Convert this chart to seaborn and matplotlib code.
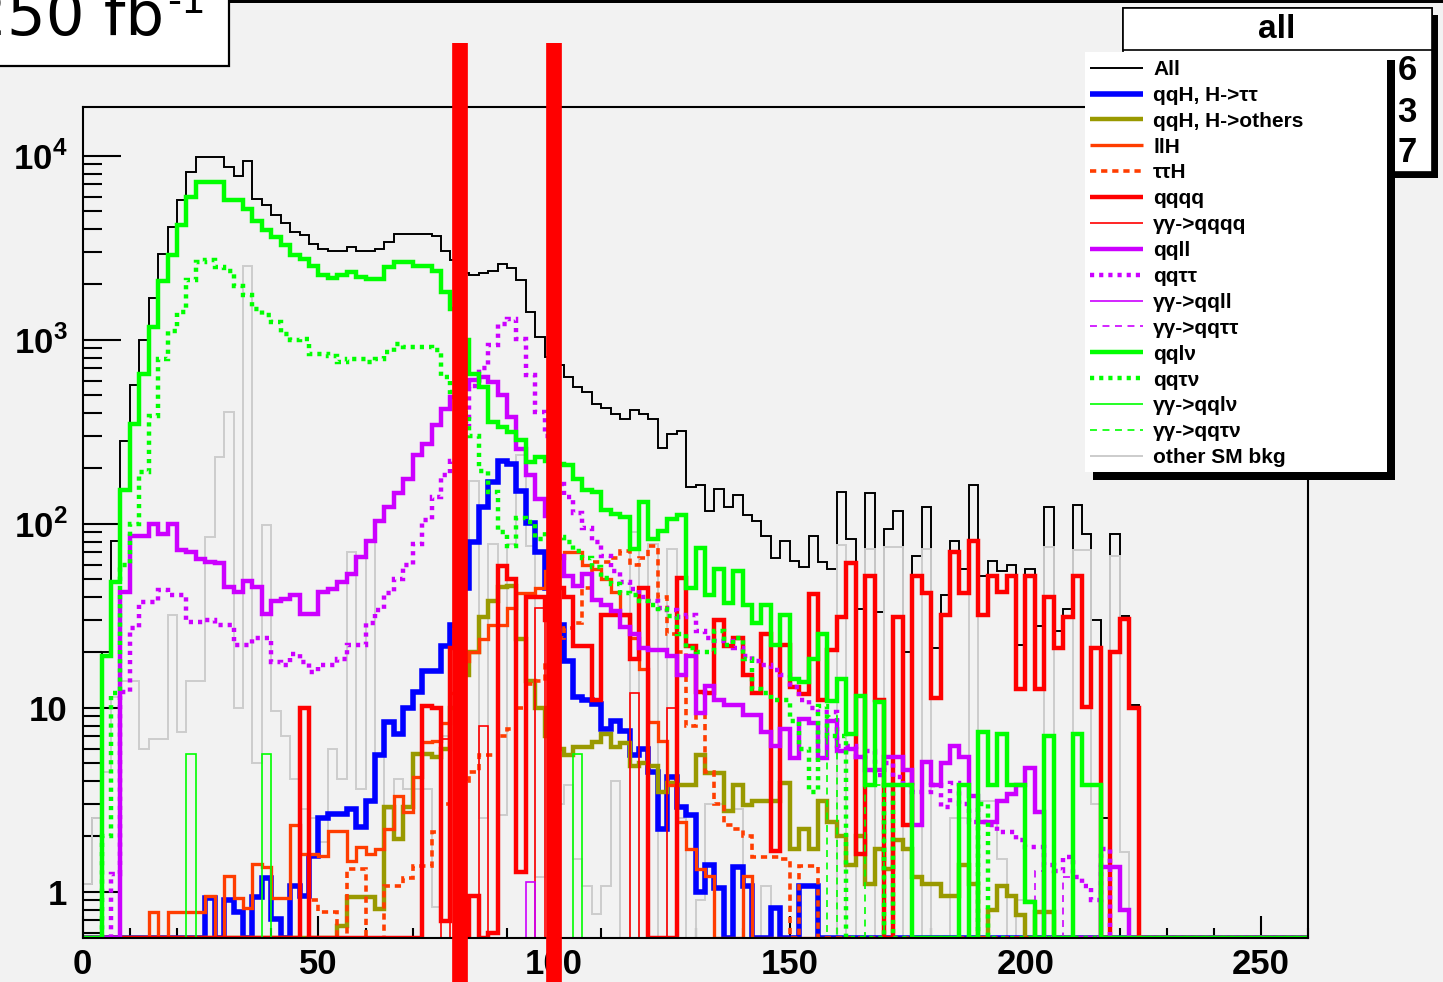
import numpy as np
import pandas as pd
import matplotlib
matplotlib.use("Agg")
import matplotlib.pyplot as plt
import seaborn as sns
from matplotlib.patches import Rectangle
from matplotlib.font_manager import FontProperties
from matplotlib.ticker import (FixedLocator, FixedFormatter, LogLocator,
                               MultipleLocator, NullFormatter)

# ---------------- binning (2 GeV bins from 0 to 260) ----------------
BIN_WIDTH = 2.0
N_BINS = 130
cut_low, cut_high = 80, 100

# ---------------- bin contents, bin 0 first ----------------
all_events = [1.1, 2.5, 20, 81, 283, 565, 1000, 1690, 2930, 4110,
              5710, 8190, 9880, 9880, 9880, 8700, 7730, 9400, 5840, 5370,
              4770, 4320, 3860, 3730, 3330, 3120, 3020, 3020, 3180, 3020,
              3020, 3100, 3410, 3750, 3750, 3750, 3750, 3650, 3020, 2700,
              2300, 2235, 2290, 2350, 2565, 2460, 2100, 1420, 1040, 810,
              725, 630, 555, 522, 449, 427, 396, 372, 413, 396,
              372, 259, 308, 321, 159, 162, 117, 155, 124, 144,
              111, 104, 86, 65, 81, 63, 58, 86, 62, 57,
              149, 83, 34.5, 146, 33, 93, 117, 20, 67, 124,
              21, 41, 81, 57, 163, 52, 63, 55, 60, 22,
              57, 27.7, 124, 26.2, 34.5, 126, 88, 30, 2.5, 88,
              31.6, 10.3]

qqh_tautau = [0] * 13 + [0.92, 0, 0.9, 0.78, 0, 0.94, 1.18, 0.71, 0, 1.08,
                         0.95, 1.57, 2.5, 2.65, 2.65, 2.8, 2.25, 3.1, 5.5, 8.4,
                         7.2, 10, 12.2, 15.9, 15.9, 21.7, 28, 45, 80, 124,
                         168, 219, 210, 150, 101, 70, 45, 28, 18, 11.5,
                         11, 10.5, 7.7, 8.5, 7.5, 5.5, 6, 4.5, 2.2, 4.2,
                         2.9, 2.6, 1.0, 1.4, 1.05, 0, 1.37, 1.08, 0, 0,
                         0.82, 0, 0, 1.07, 1.08]

qqh_others = [0] * 27 + [0.65, 0.94, 0.94, 0.94, 0.81, 2.9, 1.94, 2.9, 5.6, 5.6,
                         5.4, 6, 10, 15, 20, 31, 38, 45.5, 46, 23.7,
                         14, 10, 7, 6, 5.5, 6.1, 6.1, 6.5, 7.2, 6.1,
                         6.4, 4.8, 5, 4.8, 3.5, 3.9, 3.8, 3.8, 5.5, 4.4,
                         4.4, 2.75, 3.8, 2.95, 3.1, 3.1, 3.1, 3.9, 1.7, 2.2,
                         1.7, 3.1, 2.4, 2.0, 1.4, 2.0, 1.1, 1.7, 1.33, 1.9,
                         1.7, 1.2, 1.1, 1.1, 0.95, 0.95, 1.4, 1.1, 0, 0.8,
                         1.08, 0.95, 0.75, 0, 0.78, 0.78]

llh = [0] * 7 + [0.78, 0, 0.78, 0.78, 0.78, 0.78, 0.95, 0, 1.22, 0.92,
                 0.82, 1.42, 1.37, 0.92, 0.92, 2.3, 1.6, 1.6, 1.57, 2.15,
                 2.15, 1.47, 1.75, 1.6, 1.7, 2.2, 3.3, 2.7, 4.2, 6.5,
                 6.6, 8.3, 12, 18, 20, 23.7, 28, 28, 35, 42,
                 42, 45, 55, 65, 70, 70, 60, 57, 50, 42.7,
                 32, 24, 16.3, 8.4, 6.6, 3.8, 2.4, 1.7, 1.33, 1.22,
                 0, 0, 0, 1.22]

tautau_h = [0] * 24 + [0.9, 0.78, 0.78, 0, 1.33, 1.33, 0, 0, 1.08, 1.08,
                       1.18, 1.38, 1.38, 2.1, 3.0, 3.5, 4.0, 4.5, 5.5, 5.5,
                       7, 7.7, 10, 13.5, 14, 18, 24, 27, 29, 45,
                       62, 62, 65, 71, 60, 65, 76, 40, 25, 20,
                       8, 12, 4.5, 3.0, 2.3, 2.2, 2.0, 1.55, 1.55, 1.55,
                       1.5, 0, 1.38, 1.38]

qqqq = [0] * 23 + [10] + [0] * 12 + [
    10.2, 10, 0.69, 21, 0, 0.95, 0, 0.6, 59, 50,
    1.28, 40, 40, 30, 45, 40, 21.7, 21.7, 11, 32,
    32, 32, 18.5, 45, 0, 0, 0, 51, 21.7, 12.2,
    12, 30, 21.7, 24, 15, 12, 25, 1.67, 22, 13,
    11.8, 41.7, 11, 20.7, 31, 61, 1.6, 52, 11, 0,
    31, 2.3, 52, 42, 11.3, 32, 70, 42, 81, 32,
    52, 42.7, 52, 12.7, 52, 12.7, 40, 21, 31, 52,
    10.1, 21, 0, 20, 30.4, 10]

gg_qqqq = [0] * 38 + [6.8, 0, 0, 0, 8, 0, 0, 0, 0, 0, 35,
                      0, 0, 0, 0, 0, 0, 0, 0, 0, 12, 0, 0, 0, 10]

qqll = [0] * 4 + [42.7, 86, 86, 100, 88, 100,
                  71.6, 70, 64.5, 62, 61, 45.5, 42.7, 49, 45.5, 32.4,
                  38.2, 39, 40.8, 32.4, 32.4, 42.7, 44.2, 48.4, 53.5, 66,
                  81, 104, 124, 146, 176, 235, 272, 342, 422, 490,
                  560, 601, 630, 590, 498, 380, 256, 183, 137, 110,
                  67, 52, 46, 53.5, 38.5, 36, 33.5, 27.5, 25, 21,
                  20.5, 20.5, 19, 15, 19, 9.3, 13.2, 11, 10.3, 10.3,
                  9.1, 9.1, 7.4, 6.2, 7.7, 5.3, 8.7, 8.3, 5.3, 8.5,
                  5.8, 6, 5.4, 4.6, 4.6, 5.4, 5.4, 4.6, 2.3, 5.1,
                  3.8, 5, 6.2, 5.4, 3.3, 2.4, 2.4, 3.1, 3.4, 3.8,
                  4.7, 2.7, 0, 0, 0, 0, 0, 0, 1.37, 1.37,
                  0.8]

qqtautau = [0] * 3 + [1.25, 12.2, 27, 37.6, 37.6, 43.5, 40.8,
                      40.8, 29.2, 29.2, 30, 28, 28, 21.8, 21.8, 24, 24,
                      17.8, 17, 19.7, 17.8, 15.7, 17, 17, 18.5, 21.8, 22,
                      29, 34, 42, 50, 60, 78, 105, 140, 185, 220,
                      350, 560, 700, 930, 1220, 1300, 1010, 640, 406, 300,
                      165, 140, 115, 95, 80, 67, 55, 48, 44, 40,
                      38, 35, 34, 31, 32, 26, 24, 23, 23, 21,
                      19, 18, 17, 16, 15, 13, 11, 10, 9.5, 9.5,
                      6.2, 6.2, 5.4, 5.8, 4.3, 5, 4.2, 3.8, 3.5, 3.5,
                      3.8, 2.9, 3.9, 3, 2.4, 2.4, 2.3, 2.1, 2.1, 1.9,
                      1.75, 1.75, 1.4, 1.3, 1.55, 1.2, 1.07, 0.9, 1.7]

gg_qqll = [0] * 47 + [1.13]

gg_qqtautau = [0] * 101 + [1.3, 0, 0, 1.2]

qqlnu = [0, 0, 19, 48, 152, 349, 653, 1177, 2090, 2870,
         4180, 5980, 7230, 7230, 7230, 5780, 5780, 5150, 4390, 3930,
         3630, 3260, 2870, 2730, 2530, 2250, 2160, 2240, 2330, 2200,
         2150, 2150, 2480, 2660, 2660, 2530, 2530, 2350, 1820, 1470,
         1000, 653, 555, 358, 337, 316, 284, 217, 231, 220,
         210, 208, 176, 152, 149, 118, 113, 109, 73, 132,
         83, 91, 106, 112, 45, 74, 41, 57, 37, 55,
         36, 29, 36, 22, 32, 14.3, 13.8, 18.5, 25.3, 10.9,
         14.3, 7.2, 11.6, 3.8, 10.8, 3.8, 3.8, 3.8, 0, 0,
         0, 0, 0, 3.8, 0, 7.4, 3.8, 7.2, 3.8, 3.8,
         0.88, 0, 7.0, 0, 0, 7.2, 3.8, 3.8]

qqtaunu = [0, 0, 2, 12, 60, 100, 192, 387, 788, 1122,
           1420, 2100, 2655, 2700, 2480, 2370, 1970, 1740, 1470, 1355,
           1250, 1078, 1000, 1010, 840, 840, 820, 757, 788, 788,
           757, 788, 857, 952, 912, 912, 912, 875, 627, 520,
           400, 300, 194, 149, 90, 76, 107, 102, 83, 90,
           85, 80, 71, 65, 58, 51, 47, 42, 41, 38,
           36, 34.5, 31.6, 25, 21, 20, 20, 26, 22, 24,
           18.5, 12.7, 12, 11, 11, 8.5, 6, 3.5, 10.2, 7,
           7, 0, 0, 0, 0, 3.8, 0, 0, 0, 0,
           0, 0, 0, 0, 0, 3.0]

gg_qqlnu = [0] * 11 + [5.6] + [0] * 7 + [5.6] + [0] * 32 + [5.6] + [0] * 40 + [3.8]

gg_qqtaunu = [0] * 79 + [9, 0, 0, 0, 3.8, 3.8]

other_sm = [1.1, 2.5, 4.5, 11.5, 14, 14, 6, 6.8, 6.8, 32,
            7.4, 14, 14, 85, 231, 406, 10, 2530, 5, 98,
            9.6, 7, 4.1, 2.8, 2.5, 1.87, 6, 4.1, 70, 3.6,
            80, 5.5, 2.8, 4.1, 3.6, 3.6, 3.6, 0.83, 7, 10,
            60, 170, 2.5, 78, 2.6, 78, 235, 76, 1.2, 8,
            3, 3.8, 1.5, 1.08, 0.76, 1.07, 4, 0, 90, 0,
            78, 0, 73, 2.5, 0, 0.9, 3, 3, 2.7, 2.8,
            0, 0, 1.08, 0, 0, 0, 0, 0, 0, 0,
            77, 0, 2, 73, 0, 75, 75, 0, 0, 73,
            0, 0, 2.5, 2.5, 80, 3.1, 3.1, 1.5, 0, 0.9,
            0.9, 0, 75, 0, 0, 72, 72, 3, 0, 67, 1.65]

legend_labels = ["All", "qqH, H->ττ", "qqH, H->others", "llH", "ττH", "qqqq",
                 "γγ->qqqq", "qqll", "qqττ", "γγ->qqll", "γγ->qqττ", "qqlν",
                 "qqτν", "γγ->qqlν", "γγ->qqτν", "other SM bkg"]

# ---------------- styling ----------------
W, H = 1443, 982
BG = "#f2f2f2"
GREEN, PURPLE, RED, ORANGE = "#00ff00", "#cc00ff", "#ff0000", "#ff3d00"
DOT = (0, (3.0, 3.6))
DASH_THICK = (0, (4.5, 3.5))
DASH_THIN = (0, (5.0, 4.0))

plt.rcParams["font.family"] = ["Liberation Sans", "DejaVu Sans"]
plt.rcParams["font.weight"] = "bold"
plt.rcParams["mathtext.fontset"] = "custom"
plt.rcParams["mathtext.rm"] = "Liberation Sans:bold"
plt.rcParams["mathtext.bf"] = "Liberation Sans:bold"
plt.rcParams["lines.scale_dashes"] = False

# (label, contents, color, linewidth, linestyle)
series = [
    (legend_labels[0], all_events, "black", 1.4, "-"),
    (legend_labels[15], other_sm, "#cccccc", 1.4, "-"),
    (legend_labels[1], qqh_tautau, "#0000ff", 4.0, "-"),
    (legend_labels[2], qqh_others, "#999900", 3.2, "-"),
    (legend_labels[3], llh, ORANGE, 2.4, "-"),
    (legend_labels[4], tautau_h, ORANGE, 2.6, DASH_THICK),
    (legend_labels[5], qqqq, RED, 3.2, "-"),
    (legend_labels[6], gg_qqqq, RED, 1.2, "-"),
    (legend_labels[7], qqll, PURPLE, 3.2, "-"),
    (legend_labels[8], qqtautau, PURPLE, 3.2, DOT),
    (legend_labels[9], gg_qqll, PURPLE, 1.2, "-"),
    (legend_labels[10], gg_qqtautau, PURPLE, 1.2, DASH_THIN),
    (legend_labels[11], qqlnu, GREEN, 3.2, "-"),
    (legend_labels[12], qqtaunu, GREEN, 3.2, DOT),
    (legend_labels[13], gg_qqlnu, GREEN, 1.2, "-"),
    (legend_labels[14], gg_qqtaunu, GREEN, 1.2, DASH_THIN),
]

Y_MIN = 10 ** (-(938 - 891.7) / 184.0)
Y_MAX = 10 ** ((891.7 - 107.3) / 184.0)
edges = np.arange(N_BINS + 1) * BIN_WIDTH


def frac_rect(x0, y0, x1, y1, **kw):
    """Rectangle given in figure pixels (origin top-left)."""
    return Rectangle((x0 / W, 1 - y1 / H), (x1 - x0) / W, (y1 - y0) / H,
                     transform=fig.transFigure, **kw)


fig = plt.figure(figsize=(W / 100, H / 100), dpi=100, facecolor=BG)
ax = fig.add_axes([82.7 / W, 1 - 938 / H, (1308.3 - 82.7) / W, (938 - 107.3) / H])
ax.set_facecolor(BG)
ax.set_yscale("log")

handles = {}
for label, vals, color, lw, ls in series:
    content = np.zeros(N_BINS)
    content[:len(vals)] = vals
    # empty bins sit on the frame floor, as in a ROOT log plot
    y = np.where(content > 0, content, Y_MIN)
    df = pd.DataFrame({"mass": edges, "events": np.append(y, y[-1])})
    sns.lineplot(data=df, x="mass", y="events", ax=ax, color=color, linewidth=lw,
                 linestyle=ls, drawstyle="steps-post", estimator=None,
                 errorbar=None, sort=False, legend=False,
                 solid_joinstyle="miter", dash_joinstyle="miter",
                 solid_capstyle="butt", dash_capstyle="butt")
    handles[label] = ax.lines[-1]

ax.set_xlim(0, N_BINS * BIN_WIDTH)
ax.set_ylim(Y_MIN, Y_MAX)
ax.set_xlabel("")
ax.set_ylabel("")

# mass window
for xc in (cut_low, cut_high):
    ax.axvline(xc, ymin=-0.06, ymax=1.078, color=RED, lw=11.3,
               clip_on=False, solid_capstyle="butt", zorder=20)

# axes, ROOT-like inward ticks
for sp in ax.spines.values():
    sp.set_linewidth(1.5)
    sp.set_color("black")
ax.yaxis.set_major_locator(FixedLocator([1, 10, 100, 1000, 10000]))
ax.yaxis.set_major_formatter(FixedFormatter(
    ["1", "10", r"$10^{2}$", r"$10^{3}$", r"$10^{4}$"]))
ax.yaxis.set_minor_locator(LogLocator(base=10, subs=np.arange(2, 10), numticks=20))
ax.yaxis.set_minor_formatter(NullFormatter())
ax.xaxis.set_major_locator(MultipleLocator(50))
ax.xaxis.set_minor_locator(MultipleLocator(10))
ax.tick_params(axis="y", which="major", direction="in", length=27, width=1.5,
               pad=11, labelsize=25, left=True, right=False)
ax.tick_params(axis="y", which="minor", direction="in", length=14, width=1.5,
               left=True, right=False)
ax.tick_params(axis="x", which="major", direction="in", length=16, width=1.5,
               pad=7, labelsize=25, bottom=True, top=False)
ax.tick_params(axis="x", which="minor", direction="in", length=7, width=1.5,
               bottom=True, top=False)
for lbl in ax.get_xticklabels() + ax.get_yticklabels():
    lbl.set_fontweight("bold")

# luminosity box
fig.add_artist(frac_rect(-5, -5, 229, 66, facecolor="white", edgecolor="black",
                         linewidth=1.6, zorder=2))
fig.add_artist(frac_rect(229, 0, W, 3, facecolor="black", edgecolor="none", zorder=2))
fig.text(164 / W, 1 - 35 / H, "250 fb", ha="right", va="baseline",
         fontsize=44, fontweight="normal", family="DejaVu Sans", zorder=3)
fig.text(167 / W, 1 - 13 / H, "-1", ha="left", va="baseline",
         fontsize=28, fontweight="normal", family="DejaVu Sans", zorder=3)

# statistics box behind the legend
fig.add_artist(frac_rect(1129, 15, 1438, 178, facecolor="black", edgecolor="none", zorder=2))
fig.add_artist(frac_rect(1123, 8, 1432, 172, facecolor="white", edgecolor="black",
                         linewidth=1.2, zorder=2.1))
fig.add_artist(frac_rect(1123, 8, 1432, 50, facecolor="white", edgecolor="black",
                         linewidth=1.2, zorder=2.2))
fig.text(1277 / W, 1 - 29 / H, "all", ha="center", va="center", fontsize=24,
         fontweight="bold", zorder=2.3)
for yy, digit in ((70, "6"), (112, "3"), (153, "7")):
    fig.text(1417 / W, 1 - yy / H, digit, ha="right", va="center", fontsize=25,
             fontweight="bold", zorder=2.3)

# legend box with solid shadow
fig.add_artist(frac_rect(1093, 60, 1395, 480, facecolor="black", edgecolor="none", zorder=3))
fig.add_artist(frac_rect(1085, 52, 1387, 472, facecolor="white", edgecolor="none", zorder=3.5))
leg = fig.legend([handles[l] for l in legend_labels], legend_labels,
                 loc="upper left", bbox_to_anchor=(1090 / W, 1 - 60 / H),
                 frameon=False, prop=FontProperties(family=["Liberation Sans", "DejaVu Sans"],
                                                    weight="bold", size=15),
                 handlelength=2.55, handletextpad=0.48, labelspacing=0.33,
                 borderpad=0, borderaxespad=0)
leg.set_zorder(4)

fig.savefig("out.png", dpi=100, facecolor=BG)
